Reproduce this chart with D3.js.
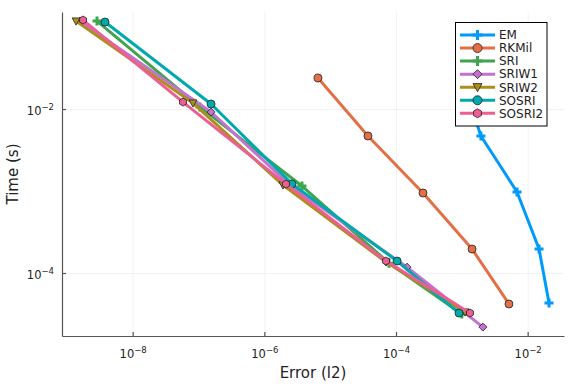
<!DOCTYPE html>
<html>
<head>
<meta charset="utf-8">
<script src="https://cdn.jsdelivr.net/npm/d3@7"></script>
<style>
  body { margin: 0; background: #fff; }
  .chart { width: 576px; height: 384px; }
  text { font-family: "DejaVu Sans", sans-serif; }
</style>
</head>
<body>
<div class="chart"></div>
<script>
// series names, in plot order
let seriesNames = ["EM", "RKMil", "SRI", "SRIW1", "SRIW2", "SOSRI", "SOSRI2"];

// error (l2) values per series
let errEM     = [1.0e-3, 1.95e-3, 6.89e-3, 1.49e-2, 2.11e-2];
let errRKMil  = [6.53e-6, 3.75e-5, 2.57e-4, 1.43e-3, 5.2e-3];
let errSRI    = [2.87e-9, 1.05e-7, 3.73e-6, 7.82e-5, 1.0e-3];
let errSRIW1  = [1.58e-9, 1.55e-7, 2.54e-6, 1.47e-4, 2.09e-3];
let errSRIW2  = [1.38e-9, 8.24e-8, 1.92e-6, 7.05e-5, 1.12e-3];
let errSOSRI  = [3.80e-9, 1.55e-7, 2.63e-6, 1.04e-4, 9.06e-4];
let errSOSRI2 = [1.76e-9, 5.81e-8, 2.13e-6, 7.05e-5, 1.33e-3];

// time (s) values per series
let timeEM     = [2.39e-2, 4.69e-3, 9.73e-4, 1.96e-4, 4.3e-5];
let timeRKMil  = [2.39e-2, 4.69e-3, 9.46e-4, 1.96e-4, 4.19e-5];
let timeSRI    = [0.118, 1.06e-2, 1.15e-3, 1.32e-4, 3.16e-5];
let timeSRIW1  = [0.118, 9.19e-3, 1.15e-3, 1.18e-4, 2.19e-5];
let timeSRIW2  = [0.118, 1.18e-2, 1.18e-3, 1.36e-4, 3.34e-5];
let timeSOSRI  = [0.115, 1.15e-2, 1.22e-3, 1.40e-4, 3.25e-5];
let timeSOSRI2 = [0.1216, 1.216e-2, 1.216e-3, 1.40e-4, 3.25e-5];

let xTickValues = [1e-8, 1e-6, 1e-4, 1e-2];
let yTickValues = [1e-4, 1e-2];

let colors = ["#009AFA", "#E36F47", "#3EA44E", "#C371D2", "#AC8E18", "#00A9AD", "#ED5E93"];
let shapes = ["cross", "circle", "cross", "diamond", "dtriangle", "circle", "hexagon"];

function init() {
    let errs = [errEM, errRKMil, errSRI, errSRIW1, errSRIW2, errSOSRI, errSOSRI2];
    let times = [timeEM, timeRKMil, timeSRI, timeSRIW1, timeSRIW2, timeSOSRI, timeSOSRI2];
    let series = seriesNames.map((name, i) => ({
        name: name,
        color: colors[i],
        shape: shapes[i],
        points: errs[i].map((e, j) => ({ x: e, y: times[i][j] }))
    }));

    let margin = { top: 12, right: 12, bottom: 48, left: 62 };
    let width = 576 - margin.left - margin.right;
    let height = 384 - margin.top - margin.bottom;

    let xScale = d3.scaleLog()
        .domain([Math.pow(10, -9.074), Math.pow(10, -1.448)])
        .range([0, width]);

    let yScale = d3.scaleLog()
        .domain([Math.pow(10, -4.768), Math.pow(10, -0.817)])
        .range([height, 0]);

    let svg = d3.select(".chart").append("svg")
        .attr("width", 576)
        .attr("height", 384);

    let plot = svg.append("g")
        .attr("transform", `translate(${margin.left},${margin.top})`);

    // grid
    plot.append("g")
        .attr("transform", `translate(0,${height})`)
        .call(d3.axisBottom(xScale).tickValues(xTickValues).tickSize(-height).tickFormat(""))
        .call(g => g.select(".domain").remove())
        .selectAll("line").attr("stroke", "#000").attr("stroke-opacity", 0.1).attr("stroke-width", 0.5);

    plot.append("g")
        .call(d3.axisLeft(yScale).tickValues(yTickValues).tickSize(-width).tickFormat(""))
        .call(g => g.select(".domain").remove())
        .selectAll("line").attr("stroke", "#000").attr("stroke-opacity", 0.1).attr("stroke-width", 0.5);

    // axes, ticks pointing inward
    let expOf = d => Math.round(Math.log10(d));

    let xAxis = plot.append("g")
        .attr("transform", `translate(0,${height})`)
        .call(d3.axisBottom(xScale).tickValues(xTickValues).tickSizeInner(-4).tickSizeOuter(0).tickPadding(10));
    xAxis.select(".domain").attr("stroke", "#555").attr("stroke-width", 1.2);
    xAxis.selectAll("line").attr("stroke", "#555").attr("stroke-width", 1.2);
    xAxis.selectAll("text")
        .text(null)
        .attr("font-size", 11.5)
        .attr("fill", "#222")
        .attr("dy", "1.0em")
        .each(function(d) {
            let t = d3.select(this);
            t.append("tspan").text("10");
            t.append("tspan").attr("dy", "-0.5em").attr("font-size", 8.5).text("\u2212" + Math.abs(expOf(d)));
        });

    let yAxis = plot.append("g")
        .call(d3.axisLeft(yScale).tickValues(yTickValues).tickSizeInner(-4).tickSizeOuter(0).tickPadding(8));
    yAxis.select(".domain").attr("stroke", "#555").attr("stroke-width", 1.2);
    yAxis.selectAll("line").attr("stroke", "#555").attr("stroke-width", 1.2);
    yAxis.selectAll("text")
        .text(null)
        .attr("font-size", 11.5)
        .attr("fill", "#222")
        .attr("dy", "0.45em")
        .each(function(d) {
            let t = d3.select(this);
            t.append("tspan").text("10");
            t.append("tspan").attr("dy", "-0.5em").attr("font-size", 8.5).text("\u2212" + Math.abs(expOf(d)));
        });

    // axis titles
    svg.append("text")
        .attr("x", margin.left + width / 2)
        .attr("y", 378)
        .attr("text-anchor", "middle")
        .attr("font-size", 15)
        .attr("fill", "#222")
        .text("Error (l2)");

    svg.append("text")
        .attr("transform", `translate(18,${margin.top + height / 2}) rotate(-90)`)
        .attr("text-anchor", "middle")
        .attr("font-size", 15)
        .attr("fill", "#222")
        .text("Time (s)");

    let line = d3.line()
        .x(d => xScale(d.x))
        .y(d => yScale(d.y));

    let hexagon = r => d3.range(6).map(k => {
        let a = Math.PI / 6 + k * Math.PI / 3;
        return [r * Math.cos(a), r * Math.sin(a)];
    });

    function drawMarker(g, shape, color, cx, cy, r) {
        if (shape === "circle") {
            g.append("circle").attr("cx", cx).attr("cy", cy).attr("r", r)
                .attr("fill", color).attr("stroke", "#222").attr("stroke-width", 0.8);
        } else if (shape === "cross") {
            g.append("path")
                .attr("d", `M${cx - r - 0.5},${cy}H${cx + r + 0.5}M${cx},${cy - r - 0.5}V${cy + r + 0.5}`)
                .attr("stroke", color).attr("stroke-width", 3).attr("fill", "none");
        } else if (shape === "diamond") {
            g.append("path")
                .attr("d", `M${cx},${cy - r}L${cx + r},${cy}L${cx},${cy + r}L${cx - r},${cy}Z`)
                .attr("fill", color).attr("stroke", "#222").attr("stroke-width", 0.8);
        } else if (shape === "dtriangle") {
            g.append("path")
                .attr("d", `M${cx - r},${cy - r * 0.8}L${cx + r},${cy - r * 0.8}L${cx},${cy + r}Z`)
                .attr("fill", color).attr("stroke", "#222").attr("stroke-width", 0.8);
        } else if (shape === "hexagon") {
            g.append("polygon")
                .attr("points", hexagon(r).map(p => [cx + p[0], cy + p[1]].join(",")).join(" "))
                .attr("fill", color).attr("stroke", "#222").attr("stroke-width", 0.8);
        }
    }

    // series: line then markers
    series.forEach(s => {
        let g = plot.append("g");
        g.append("path")
            .datum(s.points)
            .attr("d", line)
            .attr("fill", "none")
            .attr("stroke", s.color)
            .attr("stroke-width", 3)
            .attr("stroke-linejoin", "round");
        s.points.forEach(p => drawMarker(g, s.shape, s.color, xScale(p.x), yScale(p.y), 4));
    });

    // legend
    let legend = svg.append("g").attr("transform", "translate(455.5,22.5)");
    legend.append("rect")
        .attr("width", 91.5)
        .attr("height", 103.5)
        .attr("fill", "#fff")
        .attr("stroke", "#000")
        .attr("stroke-width", 1);

    series.forEach((s, i) => {
        let yy = 12.5 + i * 13.05;
        legend.append("line")
            .attr("x1", 4.5).attr("x2", 39.5)
            .attr("y1", yy).attr("y2", yy)
            .attr("stroke", s.color).attr("stroke-width", 3);
        drawMarker(legend, s.shape, s.color, 22, yy, 4.5);
        legend.append("text")
            .attr("x", 43.5)
            .attr("y", yy)
            .attr("dy", "0.36em")
            .attr("font-size", 12)
            .attr("fill", "#222")
            .text(s.name);
    });
}

init();
</script>
</body>
</html>
